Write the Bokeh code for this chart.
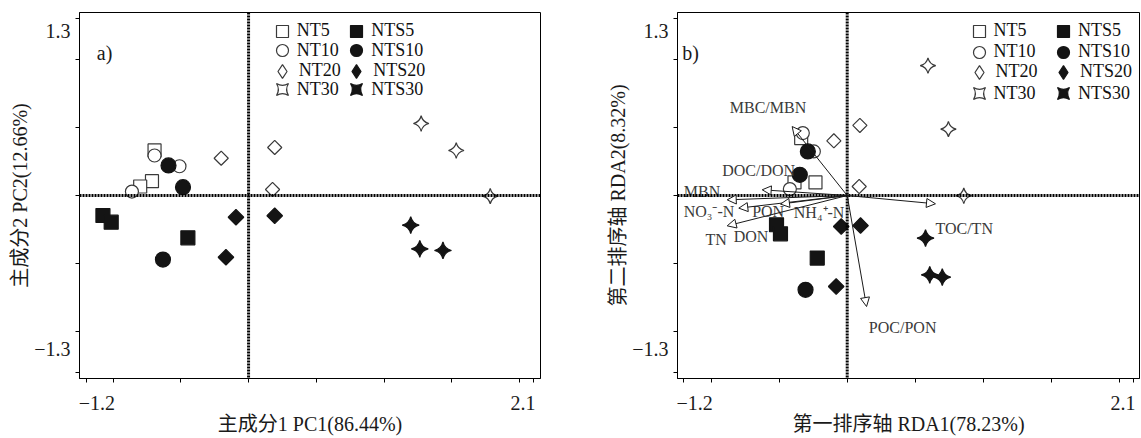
import numpy as np
from bokeh.plotting import figure
from bokeh.models import (Range1d, FixedTicker, Span, Legend, LegendItem,
                          ColumnDataSource, Arrow, NormalHead, Label)
from bokeh.layouts import row
from bokeh.embed import file_html
from bokeh.resources import INLINE
from bokeh.core.properties import value

# ---------------- data ----------------
groups = ["NT5", "NT10", "NT20", "NT30", "NTS5", "NTS10", "NTS20", "NTS30"]

# panel a) PCA scores, 3 replicates per group, in the order of `groups`
pca_group = [g for g in groups for _ in range(3)]
pca_pc1 = [-0.694, -0.713, -0.800,
           -0.694, -0.510, -0.861,
           -0.202, 0.193, 0.177,
           1.274, 1.533, 1.784,
           -1.075, -1.014, -0.448,
           -0.591, -0.484, -0.632,
           -0.093, 0.193, -0.167,
           1.197, 1.264, 1.435]
pca_pc2 = [0.331, 0.105, 0.066,
           0.294, 0.215, 0.029,
           0.274, 0.353, 0.044,
           0.529, 0.331, -0.005,
           -0.147, -0.196, -0.311,
           0.221, 0.061, -0.471,
           -0.160, -0.149, -0.454,
           -0.218, -0.392, -0.404]

# panel b) RDA sample scores
rda_group = [g for g in groups for _ in range(3)]
rda_ax1 = [-0.338, -0.387, -0.233,
           -0.326, -0.245, -0.421,
           -0.098, 0.093, 0.088,
           0.593, 0.743, 0.856,
           -0.519, -0.490, -0.220,
           -0.289, -0.348, -0.306,
           -0.044, 0.098, -0.081,
           0.575, 0.606, 0.698]
rda_ax2 = [0.422, 0.096, 0.096,
           0.459, 0.324, 0.047,
           0.402, 0.515, 0.066,
           0.954, 0.488, -0.002,
           -0.215, -0.282, -0.460,
           0.324, 0.152, -0.693,
           -0.228, -0.221, -0.669,
           -0.313, -0.583, -0.600]

# RDA environmental vectors (arrow tips)
env_name = ["MBC/MBN", "DOC/DON", "MBN", "NO₃⁻-N", "PON", "TN", "TOC/TN", "POC/PON"]
env_ax1 = [-0.404, -0.624, -0.881, -0.796, -0.490, -0.881, 0.648, 0.142]
env_ax2 = [0.507, 0.042, -0.032, -0.093, -0.063, -0.223, -0.061, -0.816]

# RDA variable labels
lab_text = ["MBC/MBN", "DOC/DON", "MBN", "NO₃⁻-N", "PON", "NH₄⁺-N",
            "TN", "DON", "TOC/TN", "POC/PON"]
lab_ax1 = [-0.862, -0.918, -1.200, -1.200, -0.698, -0.392, -1.040, -0.833, 0.648, 0.159]
lab_ax2 = [0.649, 0.182, 0.029, -0.120, -0.120, -0.127, -0.326, -0.304, -0.240, -0.969]

x_tick_pos = [-1.2, -1.0, -0.5, 0.0, 0.5, 1.0, 1.5, 2.0, 2.1]
y_tick_pos = [-1.3, -1.0, -0.5, 0.0, 0.5, 1.0, 1.3]
x_tick_text = ["−1.2", "2.1"]
y_tick_text = ["1.3", "−1.3"]

# ---------------- styles ----------------
SERIF = "'Liberation Serif', 'Noto Sans CJK SC', serif"
OPEN_LINE = "#3a3a3a"
DARK = "#141414"
Q = np.pi / 4
style = {
    "NT5":   dict(marker="square", size=13, fill_color="white", line_color=OPEN_LINE, angle=0),
    "NT10":  dict(marker="circle", size=13, fill_color="white", line_color=OPEN_LINE, angle=0),
    "NT20":  dict(marker="square", size=10, fill_color="white", line_color=OPEN_LINE, angle=Q),
    "NT30":  dict(marker="square_pin", size=11, fill_color="white", line_color=OPEN_LINE, angle=Q),
    "NTS5":  dict(marker="square", size=14, fill_color=DARK, line_color=DARK, angle=0),
    "NTS10": dict(marker="circle", size=15, fill_color=DARK, line_color=DARK, angle=0),
    "NTS20": dict(marker="square", size=11, fill_color=DARK, line_color=DARK, angle=Q),
    "NTS30": dict(marker="square_pin", size=12, fill_color=DARK, line_color=DARK, angle=Q),
}

FRAME_H = 366


def make_panel(xs, ys, gs, xr, xlabel, ylabel, tag, tag_x, b_left, f_width, b_right,
               leg_cols, leg_rows):
    p = figure(frame_width=f_width, frame_height=FRAME_H,
               x_range=Range1d(*xr), y_range=Range1d(-1.345, 1.345),
               output_backend="svg", toolbar_location=None,
               min_border_left=b_left, min_border_right=b_right,
               min_border_top=12, min_border_bottom=59)
    p.grid.visible = False
    p.outline_line_color = "black"
    p.outline_line_width = 1
    p.background_fill_color = "white"
    p.border_fill_color = "white"

    # ticks: minor ticks at real positions, labels where the reference prints them
    p.xaxis.ticker = FixedTicker(ticks=[-1.12, 2.025], minor_ticks=x_tick_pos)
    p.xaxis.major_label_overrides = {-1.12: x_tick_text[0], 2.025: x_tick_text[1]}
    p.yaxis.ticker = FixedTicker(ticks=[1.208, -1.125], minor_ticks=y_tick_pos)
    p.yaxis.major_label_overrides = {1.208: y_tick_text[0], -1.125: y_tick_text[1]}
    for ax in (p.xaxis, p.yaxis):
        ax.axis_line_color = "black"
        ax.major_tick_line_color = None
        ax.major_tick_out = 4
        ax.major_tick_in = 0
        ax.minor_tick_line_color = "black"
        ax.minor_tick_out = 4
        ax.minor_tick_in = 0
        ax.major_label_text_font = SERIF
        ax.major_label_text_font_size = "20px"
        ax.major_label_text_color = "#1a1a1a"
        ax.axis_label_text_font = SERIF
        ax.axis_label_text_font_size = "20px"
        ax.axis_label_text_font_style = "normal"
        ax.axis_label_text_color = "#1a1a1a"
    p.xaxis.major_label_standoff = 13
    p.xaxis.axis_label_standoff = 0
    p.yaxis.major_label_standoff = 5
    p.yaxis.axis_label_standoff = 0
    p.xaxis.axis_label = xlabel
    p.yaxis.axis_label = ylabel

    p.add_layout(Span(location=0, dimension="height", line_color="black",
                      line_width=3, line_dash="2 1"))
    p.add_layout(Span(location=0, dimension="width", line_color="black",
                      line_width=3, line_dash="2 1"))

    rends = {}
    for g in groups:
        idx = [i for i, gg in enumerate(gs) if gg == g]
        src = ColumnDataSource(dict(x=[xs[i] for i in idx], y=[ys[i] for i in idx]))
        st = style[g]
        rends[g] = p.scatter("x", "y", source=src, marker=st["marker"], size=st["size"],
                             angle=st["angle"], fill_color=st["fill_color"],
                             line_color=st["line_color"], line_width=1.2)

    p.add_layout(Label(x=tag_x, y=1.05, text=tag,
                       text_font=SERIF, text_font_size="20px", text_color="#1a1a1a",
                       text_baseline="middle"))

    # legend: one entry per box, two columns of four rows
    for k, g in enumerate(groups):
        col, rw = k // 4, k % 4
        st = style[g]
        if st["marker"] == "square" and st["angle"] != 0:
            # legend glyphs are drawn unrotated, so a diamond stands in there
            # (a single NaN row so that the legend has something to draw from)
            leg_src = ColumnDataSource(dict(x=np.array([np.nan]), y=np.array([np.nan])))
            leg_r = p.scatter("x", "y", source=leg_src, marker="diamond",
                              fill_color=st["fill_color"],
                              line_color=st["line_color"], line_width=1.2)
            gsz = 34
        else:
            leg_r = rends[g]
            gsz = 30
        cx = leg_cols[col]          # marker centre, px from frame left
        cy = leg_rows[rw]           # marker centre, px from frame top
        leg = Legend(items=[LegendItem(label=g, renderers=[leg_r])],
                     location=(cx - gsz / 2, FRAME_H - cy - gsz / 2),
                     orientation="vertical",
                     glyph_width=gsz, glyph_height=gsz, label_height=gsz,
                     spacing=0, padding=0, margin=0, label_standoff=15 - gsz // 2,
                     border_line_color=None, background_fill_alpha=0,
                     label_text_font=SERIF, label_text_font_size="18px",
                     label_text_color="#111111", label_text_baseline="middle")
        p.add_layout(leg)
    return p, rends


p1, _ = make_panel(pca_pc1, pca_pc2, pca_group, (-1.248, 2.155),
                   "主成分1 PC1(86.44%)", "主成分2 PC2(12.66%)", "a)", -1.12,
                   79, 461, 63, [202.7, 277.3], [18.7, 38.0, 58.7, 77.3])

p2, r2 = make_panel(rda_ax1, rda_ax2, rda_group, (-1.246, 2.146),
                    "第一排序轴 RDA1(78.23%)", "第二排序轴 RDA2(8.32%)", "b)", -1.211,
                    74, 462, 2, [301.5, 386.0], [18.7, 39.7, 59.7, 81.3])

# environmental arrows and labels on panel b
arrow_src = ColumnDataSource(dict(x0=[0.0] * len(env_ax1), y0=[0.0] * len(env_ax2),
                                  x1=env_ax1, y1=env_ax2, name=env_name))
p2.add_layout(Arrow(end=NormalHead(size=9, fill_color="white", line_color="#1a1a1a",
                                   line_width=1),
                    x_start="x0", y_start="y0", x_end="x1", y_end="y1",
                    source=arrow_src, line_color="#1a1a1a", line_width=1))
lab_src = ColumnDataSource(dict(x=lab_ax1, y=lab_ax2, t=lab_text))
p2.text("x", "y", text="t", source=lab_src, text_font=value(SERIF),
        text_font_size="16px", text_color="#3a3a3a",
        text_align="left", text_baseline="middle")

layout = row(p1, p2, spacing=0)
open("out.html", "w").write(file_html(layout, INLINE))
